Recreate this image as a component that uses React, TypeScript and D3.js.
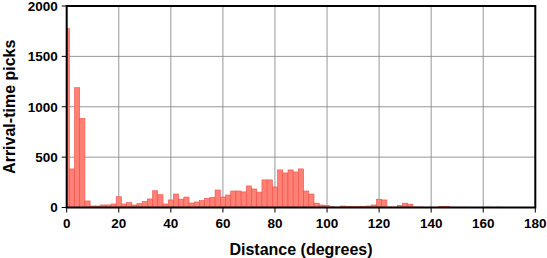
import React from "react";
import * as d3 from "d3";

const distances = [0,2,4,6,8,10,12,14,16,18,20,22,24,26,28,30,32,34,36,38,40,42,44,46,48,50,52,54,56,58,60,62,64,66,68,70,72,74,76,78,80,82,84,86,88,90,92,94,96,98,100,102,104,106,108,110,112,114,116,118,120,122,124,126,128,130,132,134,136,138,140,142,144,146,148,150,152,154,156,158,160,162,164,166,168,170,172,174,176,178,180];
const picks = [1776,383,1189,884,65,15,15,25,25,35,107,35,48,25,38,58,85,166,127,35,75,134,83,104,45,55,68,90,102,174,104,124,164,164,155,214,184,153,274,274,204,373,343,373,353,383,164,134,43,25,18,7,4,15,12,12,12,12,15,25,82,75,5,4,20,43,33,5,5,3,3,4,12,12,4,3,3,3,2,2,2,4,2,4,1,1,1,1,1,1,0];
const xTicks = [0,20,40,60,80,100,120,140,160,180];
const yTicks = [0,500,1000,1500,2000];
const binWidth = 2;

const W = 547, H = 258;
const L = 66.7, R = 535.3, T = 6, B = 207.5;

export default function App() {
  const x = d3.scaleLinear().domain([0, 180]).range([L, R]);
  const y = d3.scaleLinear().domain([0, 2000]).range([B, T]);
  const font = "'Liberation Sans', Arial, Helvetica, sans-serif";
  return (
    <div style={{ position: "fixed", left: 0, top: 0 }}>
      <svg width={W} height={H} style={{ display: "block" }}>
        <rect x={0} y={0} width={W} height={H} fill="#fff" />
        {xTicks.slice(1, -1).map((t) => (
          <line key={"gx" + t} x1={x(t)} x2={x(t)} y1={T} y2={B} stroke="#8c8c8c" strokeWidth={0.9} />
        ))}
        {yTicks.slice(1, -1).map((t) => (
          <line key={"gy" + t} x1={L} x2={R} y1={y(t)} y2={y(t)} stroke="#8c8c8c" strokeWidth={0.9} />
        ))}
        {distances.map((d, i) => {
          const x0 = x(Math.max(0, d - binWidth / 2));
          const x1 = x(Math.min(180, d + binWidth / 2));
          const v = picks[i];
          if (v <= 0) return null;
          return (
            <rect key={"b" + d} x={x0} y={y(v)} width={x1 - x0} height={B - y(v)}
              fill="#ff8075" stroke="#ef4f48" strokeWidth={0.6} />
          );
        })}
        <rect x={L} y={T} width={R - L} height={B - T} fill="none" stroke="#000" strokeWidth={2} />
        {xTicks.map((t) => (
          <g key={"tx" + t}>
            <line x1={x(t)} x2={x(t)} y1={B} y2={B + 5} stroke="#000" strokeWidth={1} />
            <text x={x(t)} y={227.5} textAnchor="middle" fontFamily={font} fontWeight="bold" fontSize={13.5} fill="#000">{t}</text>
          </g>
        ))}
        {yTicks.map((t) => (
          <g key={"ty" + t}>
            <line x1={L - 5} x2={L} y1={y(t)} y2={y(t)} stroke="#000" strokeWidth={1} />
            <text x={L - 9} y={y(t)} dy="0.36em" textAnchor="end" fontFamily={font} fontWeight="bold" fontSize={13.5} fill="#000">{t}</text>
          </g>
        ))}
        <text x={(L + R) / 2} y={254.5} textAnchor="middle" fontFamily={font} fontWeight="bold" fontSize={16} fill="#000">Distance (degrees)</text>
        <text transform={`translate(14.5,${(T + B) / 2}) rotate(-90)`} textAnchor="middle" fontFamily={font} fontWeight="bold" fontSize={16} fill="#000">Arrival-time picks</text>
      </svg>
    </div>
  );
}
